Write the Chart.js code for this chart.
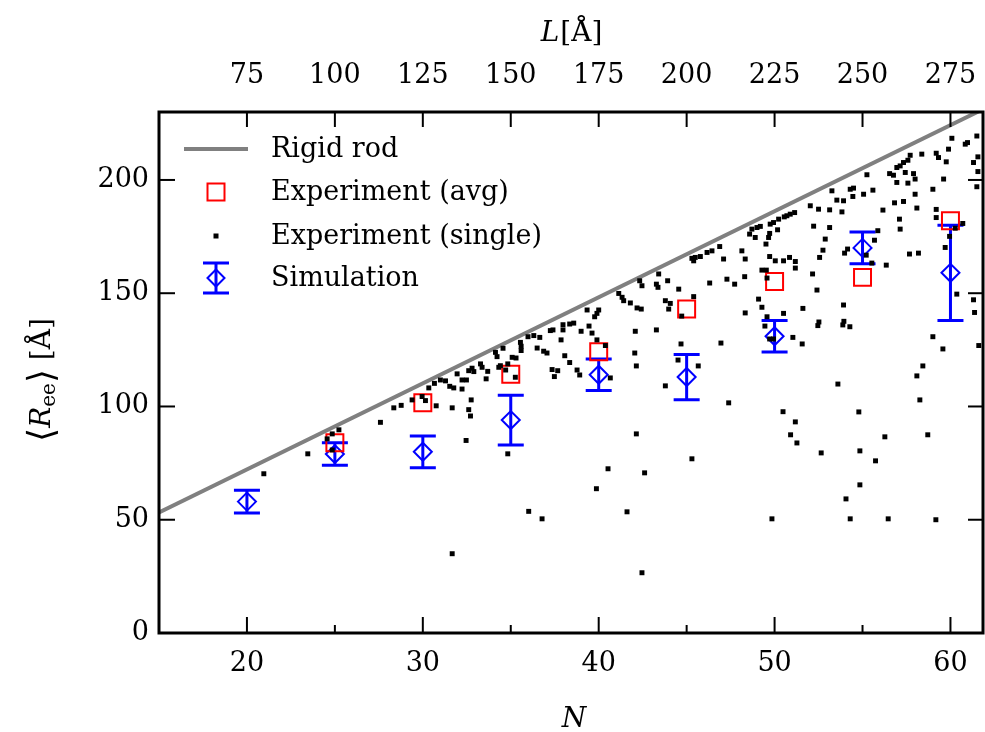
<!DOCTYPE html>
<html>
<head>
<meta charset="utf-8">
<script src="https://cdn.jsdelivr.net/npm/chart.js@4.4.1/dist/chart.umd.min.js"></script>
<style>
  html, body { margin: 0; padding: 0; background: #fff; }
  #wrap { width: 985px; height: 732px; }
</style>
</head>
<body>
<div id="wrap"><canvas id="chart" width="985" height="732"></canvas></div>
<script>
// ---- data ----
const simN = [20, 25, 30, 35, 40, 45, 50, 55, 60];
const simR = [58, 79, 80, 94, 114, 113, 131, 170, 159];
const simErr = [5, 5, 7, 11, 7, 10, 7, 7, 21];

const avgN = [25, 30, 35, 40, 45, 50, 55, 60];
const avgR = [84, 101.6, 114.2, 124.2, 143, 155.2, 157, 182];

// rigid rod end points
const rodN = [15, 62];
const rodR = [53.2, 231.8];

// single measurements
const singleN = [
  60.08, 61.50, 60.97, 60.84, 59.89, 58.37, 57.71, 59.19, 59.32, 59.76,
  57.58, 57.33, 57.14, 56.95, 61.56, 61.31, 61.56, 55.25, 56.54, 56.76,
  57.43, 57.90, 57.99, 59.61, 56.95, 57.58, 61.50, 53.26, 54.30, 54.49,
  55.59, 55.06, 54.45, 59.00, 57.99, 53.54, 53.92, 56.82, 57.33, 52.03,
  52.50, 53.13, 53.83, 56.16, 58.09, 59.19, 59.19, 51.14, 50.89, 50.70,
  50.55, 50.23, 49.94, 49.75, 49.19, 49.00, 48.71, 48.58, 48.90, 49.72,
  49.66, 50.17, 52.22, 53.13, 57.10, 57.14, 60.70, 60.27, 59.95, 59.70,
  55.87, 55.68, 52.88, 52.75, 52.56, 54.15, 53.98, 55.21, 55.53, 56.35,
  57.67, 58.18, 49.51, 48.14, 46.88, 46.44, 46.16, 45.78, 45.49, 45.30,
  45.40, 47.10, 48.33, 49.72, 50.04, 50.51, 50.85, 51.18, 51.18, 49.28,
  49.53, 49.57, 52.16, 48.30, 47.29, 47.73, 46.31, 45.40, 44.55, 43.92,
  43.41, 43.28, 43.37, 42.33, 42.46, 41.14, 41.33, 41.42, 41.80, 42.18,
  42.42, 44.07, 43.79, 43.98, 52.41, 60.36, 61.31, 49.09, 49.28, 53.92,
  51.61, 40.00, 39.34,
  39.90, 39.77, 39.00, 39.45, 39.62, 38.35, 38.58, 39.90, 40.38, 38.35,
  38.77, 38.92, 40.66, 42.08, 43.28, 42.05, 42.14, 44.68, 44.72, 44.51,
  45.66, 43.79, 47.39, 46.95, 48.33, 49.57, 49.45, 50.51, 51.04, 51.57,
  49.72, 49.94, 52.52, 52.46, 53.94, 53.88, 54.28, 53.60, 50.48, 51.18,
  50.91, 51.27, 52.65, 54.79, 54.85, 55.74, 56.27, 58.71, 58.26, 58.09,
  58.43, 59.00, 59.57, 61.37, 61.61, 42.14, 45.30, 40.53, 42.61, 39.87,
  54.85, 54.06,
  41.61, 42.46, 49.85, 54.30, 56.46, 59.17,
  31.67, 36.02, 36.78,
  20.96, 23.46, 24.85, 24.56, 24.85, 25.23, 27.59, 28.35, 28.77, 29.39,
  29.96, 30.15, 30.76, 30.34, 30.66, 31.00, 31.29, 31.53, 31.76, 31.95,
  32.23, 32.23, 32.48, 31.67, 32.75, 32.61, 32.71, 32.61, 32.80, 32.90,
  33.28, 33.37, 33.69, 33.60, 32.46, 34.13, 34.22, 34.56, 34.41, 34.32,
  34.83, 35.08, 35.30, 34.71, 35.26, 35.55, 35.59, 35.59, 35.98, 36.31,
  36.65, 36.50, 36.87, 37.06, 37.25, 37.40, 37.97, 37.97, 37.86, 37.35,
  37.67, 37.48, 38.07, 34.83
];
const singleR = [
  218.4, 219.4, 216.5, 215.8, 213.6, 211.4, 210.9, 211.8, 209.9, 208.0,
  208.7, 207.7, 206.2, 205.5, 210.2, 207.7, 203.7, 202.3, 202.8, 202.1,
  203.3, 202.8, 200.4, 200.4, 198.9, 198.6, 197.0, 195.2, 195.9, 196.4,
  195.5, 193.7, 192.7, 195.9, 193.7, 191.1, 190.8, 189.9, 190.5, 188.6,
  187.1, 186.8, 185.9, 186.7, 187.6, 187.0, 183.4, 185.6, 184.9, 184.2,
  183.7, 182.7, 181.2, 180.5, 179.5, 179.0, 178.3, 176.1, 174.6, 176.4,
  174.6, 178.0, 179.6, 179.0, 182.7, 178.3, 180.8, 178.7, 175.1, 170.2,
  177.6, 173.4, 173.9, 169.0, 165.8, 169.5, 167.7, 166.8, 163.3, 162.4,
  167.3, 167.7, 171.7, 168.7, 170.6, 168.7, 168.0, 166.2, 165.8, 165.4,
  164.3, 165.1, 165.1, 166.2, 164.3, 164.3, 165.8, 164.0, 161.1, 160.2,
  160.2, 156.7, 158.5, 157.3, 156.2, 154.0, 154.5, 148.5, 151.8, 155.5,
  158.5, 154.0, 152.6, 155.5, 153.3, 149.9, 148.2, 146.7, 145.7, 143.5,
  143.0, 145.5, 146.7, 143.0, 151.4, 149.6, 147.1, 147.4, 143.8, 144.8,
  143.3, 142.6, 142.6,
  141.1, 139.6, 133.2, 135.5, 132.4, 136.4, 136.8, 129.4, 126.9, 119.4,
  116.1, 113.9, 112.6, 133.2, 133.8, 123.6, 117.9, 127.6, 139.9, 120.5,
  117.9, 109.1, 101.6, 128.0, 141.3, 139.6, 135.5, 141.1, 130.5, 127.6,
  129.8, 129.8, 137.3, 135.7, 137.6, 136.0, 135.2, 109.9, 97.7, 93.2,
  87.5, 83.9, 79.5, 97.6, 80.4, 76.0, 86.6, 87.5, 102.9, 113.5,
  117.9, 130.8, 125.4, 141.5, 126.9, 87.9, 76.9, 72.5, 70.7, 63.7,
  65.4, 59.2,
  53.5, 26.6, 50.4, 50.4, 50.4, 50.0,
  35.0, 53.7, 50.4,
  70.3, 79.1, 80.8, 85.7, 87.9, 89.7, 93.0, 99.4, 100.5, 102.9,
  104.4, 102.6, 100.3, 108.2, 110.2, 111.7, 111.3, 108.9, 108.2, 114.4,
  107.7, 111.7, 111.7, 99.4, 102.9, 98.6, 95.8, 115.8, 116.9, 115.4,
  118.8, 117.3, 115.5, 112.2, 85.0, 123.9, 122.0, 125.7, 118.0, 117.3,
  118.8, 121.7, 121.4, 116.1, 112.9, 128.3, 126.6, 124.7, 130.8, 131.3,
  130.5, 125.8, 124.4, 123.6, 133.5, 133.8, 136.1, 133.8, 129.4, 116.3,
  115.8, 113.2, 122.4, 79.1
];

// axes
const nTicks = [20, 30, 40, 50, 60];
const nMinorTicks = [25, 35, 45, 55];
const lTicks = [75, 100, 125, 150, 175, 200, 225, 250, 275];
const yTicks = [0, 50, 100, 150, 200];
const nRange = [15, 61.85];
const yRange = [0, 230];
// top axis: L = 5 N - 25
const lRange = nRange.map(n => 5 * n - 25);

const legendLabels = ['Rigid rod', 'Experiment (avg)', 'Experiment (single)', 'Simulation'];

const FONT = '"DejaVu Serif", serif';
const BLUE = '#0000ff';
const RED = '#ff0000';
const GREY = '#808080';

const toPts = (xs, ys) => xs.map((x, i) => ({ x: x, y: ys[i] }));

// error bars, drawn beneath the diamonds
const errorBars = {
    id: 'errorBars',
    beforeDatasetsDraw(chart) {
        const { ctx, scales } = chart;
        ctx.save();
        ctx.strokeStyle = BLUE;
        ctx.lineWidth = 3;
        simN.forEach((n, i) => {
            const x = scales.x.getPixelForValue(n);
            const y1 = scales.y.getPixelForValue(simR[i] + simErr[i]);
            const y2 = scales.y.getPixelForValue(simR[i] - simErr[i]);
            ctx.beginPath();
            ctx.moveTo(x, y1); ctx.lineTo(x, y2);
            ctx.moveTo(x - 13, y1); ctx.lineTo(x + 13, y1);
            ctx.moveTo(x - 13, y2); ctx.lineTo(x + 13, y2);
            ctx.stroke();
        });
        ctx.restore();
    }
};

// box with inward ticks
const frame = {
    id: 'frame',
    afterDatasetsDraw(chart) {
        const { ctx, chartArea: a, scales } = chart;
        const seg = (x1, y1, x2, y2) => {
            ctx.beginPath(); ctx.moveTo(x1, y1); ctx.lineTo(x2, y2); ctx.stroke();
        };
        ctx.save();
        ctx.strokeStyle = '#000';
        ctx.lineWidth = 2;
        nTicks.forEach(v => {
            const x = scales.x.getPixelForValue(v);
            seg(x, a.bottom, x, a.bottom - 16);
        });
        nMinorTicks.forEach(v => {
            const x = scales.x.getPixelForValue(v);
            seg(x, a.bottom, x, a.bottom - 8);
        });
        lTicks.forEach(v => {
            const x = scales.x2.getPixelForValue(v);
            seg(x, a.top, x, a.top + 15);
        });
        yTicks.forEach(v => {
            const y = scales.y.getPixelForValue(v);
            seg(a.left, y, a.left + 16, y);
            seg(a.right, y, a.right - 15, y);
        });
        ctx.lineWidth = 3;
        ctx.strokeRect(a.left, a.top, a.right - a.left, a.bottom - a.top);
        ctx.restore();
    }
};

// axis titles and legend
const annotations = {
    id: 'annotations',
    afterDraw(chart) {
        const { ctx, chartArea: a } = chart;
        const cx = (a.left + a.right) / 2;
        ctx.save();
        ctx.fillStyle = '#000';
        ctx.textBaseline = 'alphabetic';

        // bottom title
        ctx.font = 'italic 28px ' + FONT;
        ctx.textAlign = 'center';
        ctx.fillText('N', cx + 3, 727);

        // top title  L[Å]
        ctx.textAlign = 'left';
        ctx.font = 'italic 28px ' + FONT;
        const wL = ctx.measureText('L').width;
        ctx.font = '28px ' + FONT;
        const wA = ctx.measureText('[Å]').width;
        let x0 = cx - (wL + wA) / 2;
        ctx.font = 'italic 28px ' + FONT;
        ctx.fillText('L', x0, 41);
        ctx.font = '28px ' + FONT;
        ctx.fillText('[Å]', x0 + wL + 1, 41);

        // y title  <R_ee> [Å]
        const parts = [
            ['⟨', '36px ' + FONT, 3],
            ['R', 'italic 28px ' + FONT, 0],
            ['ee', '20px ' + FONT, 5],
            ['⟩', '36px ' + FONT, 3],
            [' [Å]', '28px ' + FONT, 0]
        ];
        let total = 0;
        parts.forEach(p => { ctx.font = p[1]; total += ctx.measureText(p[0]).width; });
        ctx.translate(50, 380);
        ctx.rotate(-Math.PI / 2);
        let px = -total / 2;
        parts.forEach(p => {
            ctx.font = p[1];
            ctx.fillText(p[0], px, p[2]);
            px += ctx.measureText(p[0]).width;
        });
        ctx.setTransform(1, 0, 0, 1, 0, 0);

        // legend
        const sx = 216, tx = 271;
        const rows = [149, 192, 236, 278];
        ctx.font = '27px ' + FONT;
        ctx.textAlign = 'left';
        ctx.textBaseline = 'middle';
        legendLabels.forEach((t, i) => ctx.fillText(t, tx, rows[i] + 1));

        ctx.strokeStyle = GREY;
        ctx.lineWidth = 4;
        ctx.beginPath(); ctx.moveTo(184, rows[0]); ctx.lineTo(248, rows[0]); ctx.stroke();

        ctx.strokeStyle = RED;
        ctx.lineWidth = 2;
        ctx.strokeRect(sx - 8.5, rows[1] - 8.5, 17, 17);

        ctx.fillStyle = '#000';
        ctx.fillRect(sx - 2.5, rows[2] - 2.5, 5, 5);

        ctx.strokeStyle = BLUE;
        ctx.lineWidth = 3;
        ctx.beginPath();
        ctx.moveTo(sx, rows[3] - 15); ctx.lineTo(sx, rows[3] + 15);
        ctx.moveTo(sx - 13, rows[3] - 15); ctx.lineTo(sx + 13, rows[3] - 15);
        ctx.moveTo(sx - 13, rows[3] + 15); ctx.lineTo(sx + 13, rows[3] + 15);
        ctx.stroke();
        ctx.lineWidth = 2;
        ctx.beginPath();
        ctx.moveTo(sx - 8.5, rows[3]); ctx.lineTo(sx, rows[3] - 8.5);
        ctx.lineTo(sx + 8.5, rows[3]); ctx.lineTo(sx, rows[3] + 8.5);
        ctx.closePath(); ctx.stroke();
        ctx.restore();
    }
};

// fix the box sizes so the plot area matches the figure
const fixX = h => s => { s.height = h; s.paddingLeft = 0; s.paddingRight = 0; };
const fixY = w => s => { s.width = w; s.paddingTop = 0; s.paddingBottom = 0; };

Chart.defaults.font.family = FONT;
Chart.defaults.color = '#000';

new Chart(document.getElementById('chart'), {
    type: 'scatter',
    data: {
        datasets: [
            {
                label: 'Experiment (single)',
                data: toPts(singleN, singleR),
                pointStyle: 'rect',
                pointRadius: 3.5,
                pointBackgroundColor: '#000',
                pointBorderWidth: 0,
                order: 1
            },
            {
                label: 'Experiment (avg)',
                data: toPts(avgN, avgR),
                pointStyle: 'rect',
                pointRadius: 12,
                pointBackgroundColor: 'rgba(0,0,0,0)',
                pointBorderColor: RED,
                pointBorderWidth: 2,
                order: 2
            },
            {
                label: 'Simulation',
                data: toPts(simN, simR),
                pointStyle: 'rectRot',
                pointRadius: 9,
                pointBackgroundColor: 'rgba(0,0,0,0)',
                pointBorderColor: BLUE,
                pointBorderWidth: 2,
                order: 3
            },
            {
                label: 'Rigid rod',
                data: toPts(rodN, rodR),
                showLine: true,
                borderColor: GREY,
                borderWidth: 4,
                pointRadius: 0,
                order: 4
            }
        ]
    },
    options: {
        responsive: false,
        animation: false,
        events: [],
        layout: { autoPadding: false, padding: { left: 0, right: 2, top: 0, bottom: 0 } },
        plugins: {
            legend: { display: false },
            tooltip: { enabled: false }
        },
        scales: {
            x: {
                type: 'linear',
                position: 'bottom',
                min: nRange[0],
                max: nRange[1],
                afterBuildTicks: s => { s.ticks = nTicks.map(v => ({ value: v })); },
                afterFit: fixX(99),
                grid: { display: false, drawTicks: false },
                border: { display: false },
                ticks: { font: { size: 27 }, padding: 15, maxRotation: 0 }
            },
            x2: {
                type: 'linear',
                axis: 'x',
                position: 'top',
                min: lRange[0],
                max: lRange[1],
                afterBuildTicks: s => { s.ticks = lTicks.map(v => ({ value: v })); },
                afterFit: fixX(112),
                grid: { display: false, drawTicks: false },
                border: { display: false },
                ticks: { font: { size: 27 }, padding: 20, maxRotation: 0 }
            },
            y: {
                type: 'linear',
                position: 'left',
                min: yRange[0],
                max: yRange[1],
                afterBuildTicks: s => { s.ticks = yTicks.map(v => ({ value: v })); },
                afterFit: fixY(159),
                grid: { display: false, drawTicks: false },
                border: { display: false },
                ticks: { font: { size: 27 }, padding: 10 }
            }
        }
    },
    plugins: [errorBars, frame, annotations]
});
</script>
</body>
</html>
